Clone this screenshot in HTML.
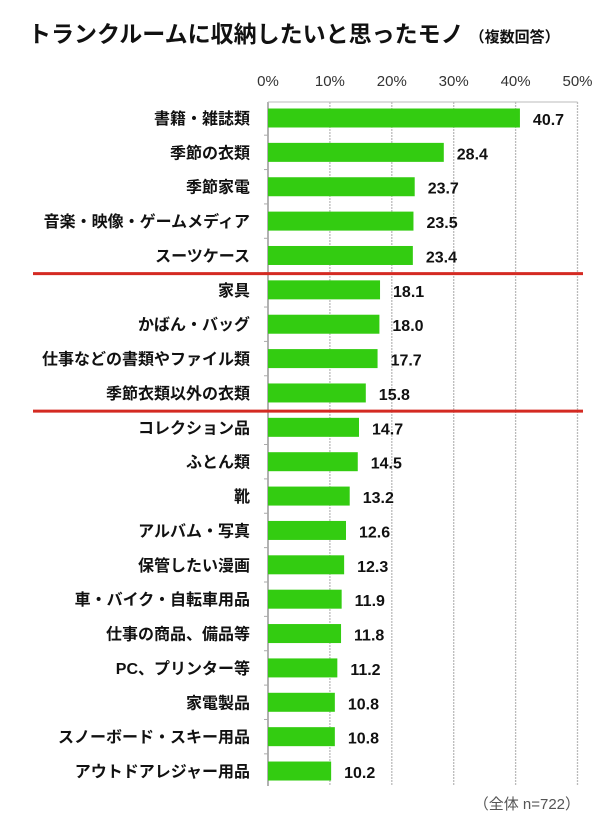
<!DOCTYPE html>
<html><head><meta charset="utf-8"><style>
body{margin:0;background:#fff;width:600px;height:821px;overflow:hidden;font-family:"Liberation Sans","Noto Sans CJK JP",sans-serif}
</style></head><body>
<svg width="600" height="821" font-family="Liberation Sans, Noto Sans CJK JP, sans-serif">
<text x="28" y="42" font-size="23" font-weight="bold" fill="#111">トランクルームに収納したいと思ったモノ<tspan font-size="15" dx="6">（複数回答）</tspan></text>
<g id="plot"></g>
<text x="580" y="809" text-anchor="end" font-size="15" fill="#555">（全体 n=722）</text>
</svg>
<script>
const categories=["書籍・雑誌類","季節の衣類","季節家電","音楽・映像・ゲームメディア","スーツケース","家具","かばん・バッグ","仕事などの書類やファイル類","季節衣類以外の衣類","コレクション品","ふとん類","靴","アルバム・写真","保管したい漫画","車・バイク・自転車用品","仕事の商品、備品等","PC、プリンター等","家電製品","スノーボード・スキー用品","アウトドアレジャー用品"];
const values=[40.7,28.4,23.7,23.5,23.4,18.1,18.0,17.7,15.8,14.7,14.5,13.2,12.6,12.3,11.9,11.8,11.2,10.8,10.8,10.2];
const ticks=[0,10,20,30,40,50];
const dividersAfter=[4,8];
const NS="http://www.w3.org/2000/svg";
const plotG=document.getElementById('plot');
const x0=268,pxPer=6.19,y0=118,step=34.37,bh=19,axTop=102,axBot=786;
const X=v=>x0+v*pxPer, Y=i=>y0+i*step;
function mk(t,a){const e=document.createElementNS(NS,t);for(const k in a)e.setAttribute(k,a[k]);plotG.appendChild(e);return e;}
ticks.forEach((t)=>{
  const l=mk('line',{x1:X(t),x2:X(t),y1:axTop,y2:axBot,stroke:t===0?'#999':'#bbb','stroke-width':t===0?1.5:1.3,'stroke-dasharray':t===0?'':'2,1'});
  
  
  const tx=mk('text',{x:X(t),y:86,'text-anchor':'middle','font-size':15,fill:'#333'});
  tx.textContent=t+'%';
  
  
});
const axisLine=mk('line',{x1:X(0),x2:X(50),y1:axTop,y2:axTop,stroke:'#bbb','stroke-width':1});


categories.forEach((c,i)=>{
  const yc=Y(i);
  if(i>0){const tk=mk('line',{x1:X(0)-4,x2:X(0),y1:yc-step/2,y2:yc-step/2,stroke:'#aaa'});
  
  }
  const r=mk('rect',{x:X(0),y:yc-bh/2,width:X(values[i])-X(0),height:bh,fill:'#33cc11'});
  
  
  const lb=mk('text',{x:250,y:yc+6,'text-anchor':'end','font-size':16,'font-weight':'bold',fill:'#111'});
  lb.textContent=c;
  
  
  const vl=mk('text',{x:X(values[i])+13,y:yc+7,'font-size':16,'font-weight':'bold',fill:'#111'});
  vl.textContent=values[i].toFixed(1);
  
  
});
dividersAfter.forEach(i=>{
  const yy=(Y(i)+Y(i+1))/2+1;
  const d=mk('line',{x1:33,x2:583,y1:yy,y2:yy,stroke:'#d42a22','stroke-width':3});
  
  
});
</script>
</body></html>
